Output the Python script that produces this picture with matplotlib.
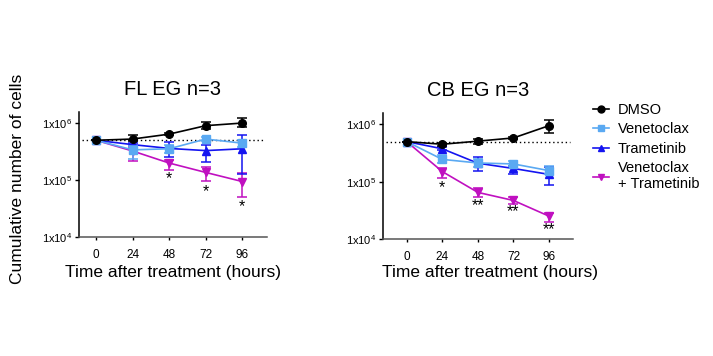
import matplotlib
matplotlib.use('Agg')
import matplotlib.pyplot as plt
import numpy as np
from matplotlib.lines import Line2D
from matplotlib.ticker import FixedLocator, FuncFormatter

plt.rcParams['font.family'] = ['Liberation Sans', 'DejaVu Sans']
plt.rcParams['mathtext.fontset'] = 'custom'
plt.rcParams['mathtext.rm'] = 'Liberation Sans'
plt.rcParams['mathtext.it'] = 'Liberation Sans'

hours = [0, 24, 48, 72, 96]

# ------------------------------- FL EG -------------------------------
fl_dmso = [5.0e5, 5.25e5, 6.4e5, 9.0e5, 1.0e6]
fl_dmso_lo = [5.0e5, 4.8e5, 6.1e5, 7.9e5, 8.5e5]
fl_dmso_hi = [5.0e5, 6.2e5, 6.7e5, 1.04e6, 1.22e6]
fl_ven = [5.0e5, 3.4e5, 3.55e5, 5.25e5, 4.45e5]
fl_ven_lo = [5.0e5, 2.35e5, 3.0e5, 4.9e5, 3.8e5]
fl_ven_hi = [5.0e5, 3.9e5, 4.2e5, 5.6e5, 5.0e5]
fl_tram = [5.0e5, 4.2e5, 3.6e5, 3.3e5, 3.55e5]
fl_tram_lo = [5.0e5, 3.9e5, 2.5e5, 2.1e5, 1.3e5]
fl_tram_hi = [5.0e5, 4.5e5, 4.7e5, 4.1e5, 6.2e5]
fl_combo = [5.0e5, 3.25e5, 2.0e5, 1.37e5, 9.5e4]
fl_combo_lo = [5.0e5, 2.15e5, 1.53e5, 9.9e4, 5.1e4]
fl_combo_hi = [5.0e5, 3.6e5, 2.29e5, 1.71e5, 1.34e5]
fl_star_hours = [48, 72, 96]
fl_star_y = [1.07e5, 6.4e4, 3.5e4]
fl_star_text = ['*', '*', '*']

# ------------------------------- CB EG -------------------------------
cb_dmso = [5.0e5, 4.5e5, 5.1e5, 5.8e5, 9.5e5]
cb_dmso_lo = [5.0e5, 4.2e5, 4.6e5, 5.5e5, 7.1e5]
cb_dmso_hi = [5.0e5, 4.8e5, 5.6e5, 6.1e5, 1.2e6]
cb_ven = [5.0e5, 2.45e5, 2.12e5, 2.04e5, 1.56e5]
cb_ven_lo = [5.0e5, 2.1e5, 1.8e5, 1.85e5, 1.35e5]
cb_ven_hi = [5.0e5, 2.9e5, 2.5e5, 2.25e5, 1.87e5]
cb_tram = [5.0e5, 3.75e5, 2.1e5, 1.7e5, 1.34e5]
cb_tram_lo = [5.0e5, 3.55e5, 1.54e5, 1.36e5, 8.8e4]
cb_tram_hi = [5.0e5, 3.95e5, 2.73e5, 1.9e5, 1.83e5]
cb_combo = [5.0e5, 1.5e5, 6.5e4, 4.7e4, 2.5e4]
cb_combo_lo = [5.0e5, 1.17e5, 5.5e4, 4.1e4, 1.95e4]
cb_combo_hi = [5.0e5, 1.71e5, 7.9e4, 5.3e4, 2.8e4]
cb_star_hours = [24, 48, 72, 96]
cb_star_y = [7.9e4, 3.8e4, 3.0e4, 1.44e4]
cb_star_text = ['*', '**', '**', '**']

labels = ['DMSO', 'Venetoclax', 'Trametinib', 'Venetoclax\n+ Trametinib']
colors = ['black', '#5aa9f2', '#1414f0', '#c010c0']
markers = ['o', 's', '^', 'v']
msizes = [5.5, 5.5, 5.5, 5.5]
baseline = 5e5
yticks = [1e4, 1e5, 1e6]


def sciFmt(v, pos):
    return r'1x10$^{%d}$' % int(round(np.log10(v)))


def plotPanel(ax, title, series, stars, xmin, xlabelX, xlabelY):
    # draw back to front so DMSO ends up on top
    for i in [3, 2, 1, 0]:
        y, lo, hi = series[i]
        y = np.array(y)
        yerr = [y - np.array(lo), np.array(hi) - y]
        ax.errorbar(hours, y, yerr=yerr, color=colors[i], marker=markers[i],
                    markersize=msizes[i], lw=1.2, elinewidth=1.1, capsize=3.5,
                    capthick=1.1, zorder=3 + (3 - i))
    ax.plot([xmin + 2, 110], [baseline, baseline], ls=(0, (1, 2)), color='black',
            lw=1.0, zorder=2)
    for h, yy, txt in zip(*stars):
        ax.text(h, yy, txt, ha='center', va='center', fontsize=11.5)

    ax.set_yscale('log')
    ax.set_ylim(1e4, 1.58e6)
    ax.set_xlim(xmin, 112)
    ax.yaxis.set_major_locator(FixedLocator(yticks))
    ax.yaxis.set_minor_locator(FixedLocator([]))
    ax.yaxis.set_major_formatter(FuncFormatter(sciFmt))
    ax.set_xticks(hours)
    ax.tick_params(axis='y', labelsize=8, length=3, width=1, pad=2)
    ax.tick_params(axis='x', labelsize=8.5, length=2.5, width=1, pad=6)
    for s in ['top', 'right']:
        ax.spines[s].set_visible(False)
    ax.spines['left'].set_linewidth(1.1)
    ax.spines['bottom'].set_linewidth(1.1)
    ax.spines['bottom'].set_color('#555555')
    ax.set_title(title, fontsize=14.5, pad=12)
    ax.set_xlabel('Time after treatment (hours)', fontsize=12.5)
    ax.xaxis.set_label_coords(xlabelX, xlabelY)


fig = plt.figure(figsize=(7.13, 3.56), dpi=100)
ax1 = fig.add_axes([0.1108, 0.3329, 0.2633, 0.3534])
ax2 = fig.add_axes([0.5372, 0.3287, 0.2661, 0.3539])

plotPanel(ax1, 'FL EG n=3',
          [(fl_dmso, fl_dmso_lo, fl_dmso_hi), (fl_ven, fl_ven_lo, fl_ven_hi),
           (fl_tram, fl_tram_lo, fl_tram_hi), (fl_combo, fl_combo_lo, fl_combo_hi)],
          (fl_star_hours, fl_star_y, fl_star_text), -11.1, 0.5, -0.219)
plotPanel(ax2, 'CB EG n=3',
          [(cb_dmso, cb_dmso_lo, cb_dmso_hi), (cb_ven, cb_ven_lo, cb_ven_hi),
           (cb_tram, cb_tram_lo, cb_tram_hi), (cb_combo, cb_combo_lo, cb_combo_hi)],
          (cb_star_hours, cb_star_y, cb_star_text), -16, 0.564, -0.206)

fig.text(0.024, 0.497, 'Cumulative number of cells', rotation=90, ha='center',
         va='center', fontsize=12.5)

# legend with plain line + marker handles
handles = [Line2D([], [], color=c, marker=m, markersize=5, lw=1.2)
           for c, m in zip(colors, markers)]
fig.legend(handles, labels, loc='upper left', bbox_to_anchor=(0.832, 0.711),
           frameon=False, fontsize=10.5, handlelength=1.1, handletextpad=0.6,
           labelspacing=0.37, borderpad=0, borderaxespad=0)

fig.savefig('out.png', dpi=100)
